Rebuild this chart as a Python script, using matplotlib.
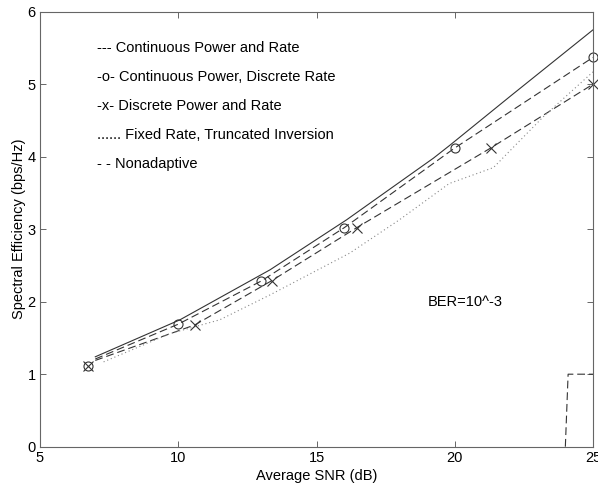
import matplotlib

matplotlib.use("Agg")
import matplotlib.pyplot as plt

# Continuous power and rate (solid)
cont_snr = [7.0, 10.06, 13.32, 16.09, 19.23, 19.83, 22.06, 25.0]
cont_se = [1.24, 1.75, 2.44, 3.13, 3.98, 4.16, 4.85, 5.75]

# Continuous power, discrete rate (dashed + circles)
cpdr_snr = [7.0, 10.0, 13.0, 16.0, 20.0, 25.0]
cpdr_se = [1.21, 1.69, 2.285, 3.02, 4.12, 5.37]
cpdr_mark_snr = [6.75, 10.0, 13.0, 16.0, 20.0, 25.0]
cpdr_mark_se = [1.11, 1.69, 2.285, 3.02, 4.12, 5.37]

# Discrete power and rate (dashed + crosses)
dpdr_snr = [7.0, 10.6, 13.38, 16.45, 21.3, 25.0]
dpdr_se = [1.19, 1.68, 2.29, 3.02, 4.12, 5.0]
dpdr_mark_snr = [6.75, 10.6, 13.38, 16.45, 21.3, 25.0]
dpdr_mark_se = [1.11, 1.68, 2.29, 3.02, 4.12, 5.0]

# Fixed rate, truncated inversion (dotted)
trunc_snr = [7.3, 9.7, 11.5, 13.3, 16.2, 18.0, 19.8, 21.4, 23.2, 25.0]
trunc_se = [1.17, 1.56, 1.75, 2.09, 2.67, 3.13, 3.63, 3.85, 4.55, 5.17]

# Nonadaptive (dashed step)
nonad_snr = [24.0, 24.1, 25.0]
nonad_se = [0.0, 1.0, 1.0]

legend_lines = [
    "--- Continuous Power and Rate",
    "-o- Continuous Power, Discrete Rate",
    "-x- Discrete Power and Rate",
    "...... Fixed Rate, Truncated Inversion",
    "- - Nonadaptive",
]
legend_y = [5.5, 5.1, 4.7, 4.3, 3.9]

x_ticks = [5, 10, 15, 20, 25]
y_ticks = [0, 1, 2, 3, 4, 5, 6]


def plot_efficiency(output_path="out.png"):
    plt.rcParams["font.family"] = ["Liberation Sans", "DejaVu Sans"]
    plt.rcParams["font.size"] = 10.5

    fig = plt.figure(figsize=(5.98, 4.88), dpi=100)
    ax = fig.add_axes([40 / 598, 41.3 / 488, 553 / 598, 435 / 488])

    line_col = "#333333"
    dash = (7, 3.5)

    ax.plot(cont_snr, cont_se, color=line_col, linewidth=0.8)
    ax.plot(cpdr_snr, cpdr_se, color=line_col, linewidth=0.8, dashes=dash)
    ax.plot(dpdr_snr, dpdr_se, color=line_col, linewidth=0.8, dashes=dash)
    ax.plot(trunc_snr, trunc_se, color="#888888", linewidth=0.8,
            linestyle=(0, (1, 2.5)))
    ax.plot(nonad_snr, nonad_se, color=line_col, linewidth=0.8, dashes=dash)

    ax.plot(cpdr_mark_snr, cpdr_mark_se, linestyle="none", marker="o",
            markersize=6.5, markerfacecolor="none", markeredgecolor=line_col,
            markeredgewidth=0.8, clip_on=False)
    ax.plot(dpdr_mark_snr, dpdr_mark_se, linestyle="none", marker="x",
            markersize=7, markeredgecolor=line_col, markeredgewidth=0.8,
            clip_on=False)

    for txt, yy in zip(legend_lines, legend_y):
        ax.text(7.05, yy, txt, va="center", ha="left", color="black")
    ax.text(19.03, 2.0, "BER=10^-3", va="center", ha="left", color="black")

    ax.set_xlim(5, 25)
    ax.set_ylim(0, 6)
    ax.set_xticks(x_ticks)
    ax.set_yticks(y_ticks)
    ax.set_xlabel("Average SNR (dB)", labelpad=3)
    ax.set_ylabel("Spectral Efficiency (bps/Hz)", labelpad=1)

    for s in ax.spines.values():
        s.set_color("#666666")
        s.set_linewidth(0.8)
    ax.tick_params(direction="in", length=4, width=0.7, color="#666666",
                   top=True, right=True, labelsize=10.5, pad=3)

    fig.savefig(output_path, dpi=100)
    return fig, ax


def main():
    plot_efficiency("out.png")


if __name__ == "__main__":
    main()
